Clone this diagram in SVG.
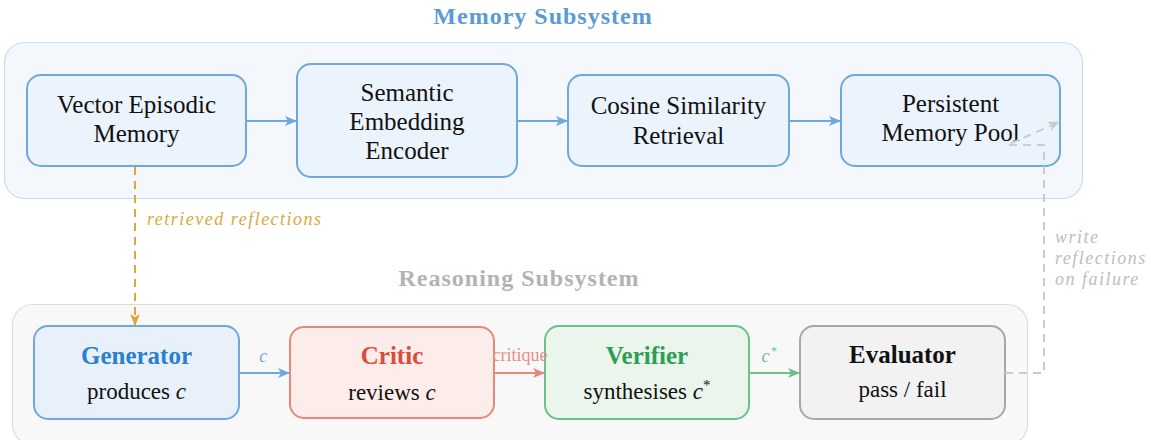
<svg xmlns="http://www.w3.org/2000/svg" width="1151" height="440" viewBox="0 0 1151 440">
<defs>
<style>
text{font-family:'Liberation Serif','DejaVu Serif',serif}
.t{fill:#111;text-anchor:middle}
.mem{font-size:25px}
.ttl{font-size:25px;font-weight:bold}
.body{font-size:23px}
.mnode{fill:#ebf3fc;stroke:#6fa8dc;stroke-width:2}
.conn{fill:none;stroke-width:2}
.lbl{font-size:18px;font-style:italic;letter-spacing:1.5px}
.sub{font-size:24px;font-weight:bold;text-anchor:middle;letter-spacing:1px}
</style>
<marker id="ab" viewBox="0 0 12 10" refX="11" refY="5" markerWidth="12" markerHeight="10" markerUnits="userSpaceOnUse" orient="auto"><path d="M0,0 L12,5 L0,10 L3,5 Z" fill="#6fa8dc"/></marker>
<marker id="ar" viewBox="0 0 12 10" refX="11" refY="5" markerWidth="12" markerHeight="10" markerUnits="userSpaceOnUse" orient="auto"><path d="M0,0 L12,5 L0,10 L3,5 Z" fill="#e8877a"/></marker>
<marker id="ag" viewBox="0 0 12 10" refX="11" refY="5" markerWidth="12" markerHeight="10" markerUnits="userSpaceOnUse" orient="auto"><path d="M0,0 L12,5 L0,10 L3,5 Z" fill="#6cc08a"/></marker>
<marker id="ay" viewBox="0 0 12 10" refX="11" refY="5" markerWidth="12" markerHeight="10" markerUnits="userSpaceOnUse" orient="auto"><path d="M0,0 L12,5 L0,10 L3,5 Z" fill="#d9a93f"/></marker>
<marker id="aq" viewBox="0 0 12 10" refX="11" refY="5" markerWidth="12" markerHeight="10" markerUnits="userSpaceOnUse" orient="auto"><path d="M0,0 L12,5 L0,10 L3,5 Z" fill="#cccccc"/></marker>
</defs>

<g id="memory-subsystem">
<rect x="4.5" y="42.5" width="1078" height="156" rx="20" fill="#f4f8fc" stroke="#c8ddf1" stroke-width="1.2"/>
<text class="sub" x="543" y="24" fill="#5b9bd5">Memory Subsystem</text>
</g>
<g id="reasoning-subsystem">
<rect x="12.5" y="304.5" width="1015" height="140" rx="20" fill="#f8f8f8" stroke="#dddddd" stroke-width="1.2"/>
<text class="sub" x="519" y="286" fill="#b3b3b3">Reasoning Subsystem</text>
</g>

<g id="vector-episodic-memory">
<rect class="mnode" x="27" y="75" width="219" height="91" rx="14"/>
<text class="t mem" x="136.5" y="113">Vector Episodic</text>
<text class="t mem" x="136.5" y="142">Memory</text>
</g>
<g id="semantic-embedding-encoder">
<rect class="mnode" x="297" y="64" width="220" height="113" rx="14"/>
<text class="t mem" x="407" y="101">Semantic</text>
<text class="t mem" x="407" y="130">Embedding</text>
<text class="t mem" x="407" y="159">Encoder</text>
</g>
<g id="cosine-similarity-retrieval">
<rect class="mnode" x="568" y="75" width="221" height="91" rx="14"/>
<text class="t mem" x="678.5" y="114">Cosine Similarity</text>
<text class="t mem" x="678.5" y="144">Retrieval</text>
</g>
<g id="persistent-memory-pool">
<rect class="mnode" x="841" y="75" width="219" height="91" rx="14"/>
<text class="t mem" x="950.5" y="112">Persistent</text>
<text class="t mem" x="950.5" y="141">Memory Pool</text>
</g>

<g id="generator">
<rect x="34" y="326" width="205" height="93" rx="14" fill="#e8f1fa" stroke="#6fa8dc" stroke-width="2"/>
<text class="t ttl" x="136.5" y="364" style="fill:#2a7fd0">Generator</text>
<text class="t body" x="136.5" y="399">produces <tspan font-style="italic">c</tspan></text>
</g>
<g id="critic">
<rect x="290" y="327" width="204" height="91" rx="14" fill="#fcecea" stroke="#e8877a" stroke-width="2"/>
<text class="t ttl" x="392" y="364" style="fill:#dd4b39">Critic</text>
<text class="t body" x="392" y="400">reviews <tspan font-style="italic">c</tspan></text>
</g>
<g id="verifier">
<rect x="545" y="326" width="204" height="93" rx="14" fill="#eaf5ec" stroke="#6cc08a" stroke-width="2"/>
<text class="t ttl" x="647" y="364" style="fill:#2e9e57">Verifier</text>
<text class="t body" x="647" y="399">synthesises <tspan font-style="italic">c</tspan><tspan font-size="15" dy="-9">*</tspan></text>
</g>
<g id="evaluator">
<rect x="800" y="326" width="205" height="93" rx="14" fill="#f2f2f2" stroke="#a8a8a8" stroke-width="2"/>
<text class="t ttl" x="902.5" y="363">Evaluator</text>
<text class="t body" x="902.5" y="397">pass / fail</text>
</g>

<g id="connectors">
<line class="conn" x1="246" y1="121" x2="296" y2="121" stroke="#6fa8dc" marker-end="url(#ab)"/>
<line class="conn" x1="517" y1="121" x2="567" y2="121" stroke="#6fa8dc" marker-end="url(#ab)"/>
<line class="conn" x1="789" y1="121" x2="840" y2="121" stroke="#6fa8dc" marker-end="url(#ab)"/>

<line class="conn" x1="135" y1="167" x2="135" y2="325" stroke="#d9a93f" stroke-dasharray="8,6" marker-end="url(#ay)"/>
<text class="lbl" x="147" y="225" fill="#d9a93f">retrieved reflections</text>

<line class="conn" x1="239" y1="373" x2="289" y2="373" stroke="#6fa8dc" marker-end="url(#ab)"/>
<text class="lbl" x="264" y="362" fill="#6fa8dc" text-anchor="middle">c</text>
<line class="conn" x1="494" y1="373" x2="544" y2="373" stroke="#e8877a" marker-end="url(#ar)"/>
<text x="520" y="361" font-size="18" fill="#ec8e82" text-anchor="middle">critique</text>
<line class="conn" x1="749" y1="373" x2="799" y2="373" stroke="#6cc08a" marker-end="url(#ag)"/>
<text class="lbl" x="770" y="362" fill="#6cc08a" text-anchor="middle">c<tspan font-size="12" dy="-7" font-style="normal">*</tspan></text>

<polyline class="conn" points="1005,373 1044,373 1044,145 1007,145 1059,122" stroke="#cccccc" stroke-dasharray="8,6" marker-end="url(#aq)"/>
<text class="lbl" x="1055" y="243" fill="#bdbdbd">write</text>
<text class="lbl" x="1055" y="264" fill="#bdbdbd">reflections</text>
<text class="lbl" x="1055" y="285" fill="#bdbdbd">on failure</text>
</g>
</svg>
